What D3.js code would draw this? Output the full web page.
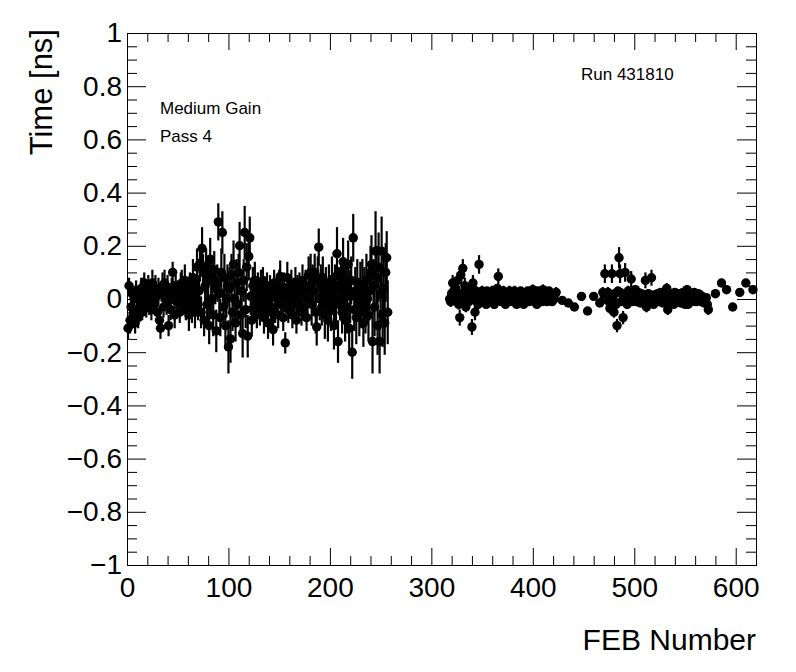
<!DOCTYPE html>
<html>
<head>
<meta charset="utf-8">
<script src="https://cdn.jsdelivr.net/npm/d3@7"></script>
<style>
  html, body { margin: 0; padding: 0; background: #fff; }
  svg text { font-family: "Liberation Sans", Arial, Helvetica, sans-serif; fill: #000; }
</style>
</head>
<body>
<div id="chart"></div>
<script>
// ---- data ----
const febLeft = d3.range(1, 258);
const timeLeft = [
    -0.11, 0.05, -0.08, -0.03, 0.02, -0.06, 0.0, -0.09, 0.03, -0.04,
    -0.07, 0.01, -0.02, 0.04, -0.05, 0.03, 0.06, 0.0, -0.03, 0.02,
    0.05, -0.01, 0.03, -0.04, 0.06, 0.02, -0.02, 0.04, 0.01, -0.05,
    0.03, -0.08, -0.11, 0.02, 0.05, -0.03, 0.06, 0.0, -0.02, 0.04,
    -0.1, 0.01, -0.04, 0.03, 0.1, 0.02, -0.06, 0.05, -0.01, 0.03,
    0.0, -0.05, 0.04, 0.06, -0.02, 0.02, 0.07, -0.04, 0.03, 0.01,
    -0.06, 0.05, 0.0, -0.03, 0.08, 0.02, -0.05, 0.04, 0.12, -0.02,
    0.03, 0.135, -0.05, 0.19, 0.1, -0.08, 0.05, 0.12, -0.02, 0.07,
    -0.1, 0.15, 0.0, 0.08, -0.06, 0.11, 0.04, -0.12, 0.06, 0.29,
    0.02, -0.07, 0.1, 0.25, -0.03, 0.08, -0.1, 0.0, 0.05, -0.18,
    0.04, -0.15, 0.09, -0.05, 0.13, 0.0, -0.09, 0.06, -0.02, 0.1,
    0.2, -0.06, 0.03, -0.13, 0.07, 0.25, -0.04, 0.12, -0.14, 0.16,
    0.23, 0.01, -0.08, 0.05, -0.03, 0.07, 0.0, -0.06, 0.04, 0.02,
    -0.04, 0.06, 0.0, 0.07, -0.07, 0.03, -0.02, 0.05, -0.09, 0.01,
    0.04, -0.05, 0.02, -0.115, 0.06, -0.03, 0.03, 0.0, -0.06, 0.05,
    0.085, -0.02, 0.02, -0.07, 0.04, -0.165, 0.01, 0.08, -0.04, 0.03,
    -0.01, 0.05, -0.06, 0.02, 0.0, 0.06, -0.08, 0.03, -0.02, 0.04,
    0.01, -0.05, 0.07, -0.03, 0.02, 0.05, -0.07, 0.0, 0.09, 0.04,
    0.1, -0.02, 0.06, 0.03, 0.1, -0.05, -0.105, 0.08, 0.195, 0.0,
    0.05, -0.03, 0.08, 0.02, -0.06, 0.04, 0.0, -0.08, 0.06, 0.01,
    -0.04, 0.07, 0.02, -0.1, 0.05, -0.02, 0.17, -0.16, 0.03, 0.0,
    0.06, -0.05, 0.14, 0.02, -0.08, 0.04, -0.03, 0.13, -0.11, 0.01,
    0.07, -0.2, 0.23, -0.04, 0.03, -0.07, 0.06, 0.0, -0.05, 0.04,
    -0.02, 0.05, -0.09, 0.02, -0.04, 0.07, 0.0, -0.06, 0.03, 0.1,
    0.13, -0.16, 0.05, -0.03, 0.18, 0.08, -0.1, 0.12, -0.16, 0.02,
    0.18, -0.06, 0.04, -0.09, 0.1, 0.155, -0.05
];
const errLeft = [
    .04, .03, .05, .03, .04, .05, .03, .04, .04, .05,
    .04, .03, .05, .04, .03, .05, .04, .03, .04, .05,
    .04, .05, .03, .04, .05, .04, .03, .05, .04, .04,
    .05, .04, .04, .03, .05, .04, .05, .03, .04, .05,
    .04, .05, .04, .05, .04, .03, .05, .04, .05, .04,
    .05, .04, .06, .05, .04, .05, .06, .04, .05, .05,
    .06, .05, .05, .06, .07, .05, .06, .05, .07, .06,
    .06, .07, .06, .08, .07, .06, .08, .07, .06, .08,
    .07, .08, .06, .07, .08, .07, .06, .08, .07, .07,
    .08, .07, .09, .08, .07, .09, .08, .07, .08, .1,
    .08, .09, .08, .07, .09, .08, .07, .09, .08, .07,
    .09, .08, .07, .09, .08, .1, .07, .09, .08, .09,
    .08, .07, .06, .07, .06, .07, .06, .05, .06, .06,
    .06, .05, .06, .05, .06, .05, .06, .05, .06, .05,
    .05, .06, .05, .06, .05, .06, .05, .06, .05, .06,
    .06, .05, .06, .05, .06, .04, .05, .06, .05, .06,
    .05, .06, .05, .06, .05, .06, .05, .06, .05, .06,
    .06, .05, .06, .05, .06, .06, .05, .06, .07, .06,
    .07, .08, .07, .08, .07, .08, .07, .08, .07, .08,
    .08, .07, .08, .07, .09, .08, .07, .08, .07, .08,
    .08, .09, .08, .09, .08, .09, .1, .08, .09, .08,
    .09, .08, .09, .1, .08, .09, .1, .09, .08, .1,
    .09, .1, .09, .08, .09, .1, .09, .08, .09, .1,
    .09, .1, .09, .1, .09, .1, .09, .1, .11, .1,
    .11, .12, .1, .11, .15, .12, .11, .13, .12, .11,
    .13, .12, .14, .12, .11, .1, .12
];

const febMidA = d3.range(318, 424);
const timeMidA = [
    0.0, -0.01, 0.02, 0.06, 0.03, -0.005, 0.04, 0.01, 0.07, -0.02,
    -0.07, 0.09, 0.02, 0.115, 0.0, 0.05, -0.03, 0.03, 0.01, -0.01,
    0.04, 0.02, -0.105, 0.06, 0.0, -0.05, 0.03, 0.01, -0.02, 0.13,
    0.02, 0.0, 0.03, -0.01, 0.02, 0.01, -0.02, 0.03, 0.0, 0.02,
    -0.01, 0.01, 0.03, 0.0, -0.02, 0.02, 0.01, 0.04, 0.085, 0.0,
    0.02, -0.01, 0.01, 0.03, 0.0, -0.02, 0.02, 0.01, -0.01, 0.03,
    0.0, 0.02, -0.01, 0.01, 0.03, 0.0, -0.02, 0.01, 0.02, -0.01,
    0.03, 0.0, 0.01, -0.02, 0.02, 0.0, 0.01, 0.03, -0.01, 0.02,
    0.0, 0.01, 0.035, -0.01, 0.02, 0.0, -0.02, 0.03, 0.01, 0.0,
    0.02, -0.01, 0.035, 0.01, 0.0, 0.02, -0.01, 0.01, 0.03, 0.0,
    0.02, -0.01, 0.01, 0.0, 0.02, 0.025
];
const errMidA = [
    .02, .02, .03, .03, .02, .02, .03, .02, .03, .02,
    .03, .03, .02, .035, .02, .03, .02, .02, .02, .02,
    .02, .02, .03, .03, .02, .03, .02, .02, .02, .035,
    .015, .015, .02, .015, .015, .02, .015, .015, .02, .015,
    .015, .015, .02, .015, .015, .015, .02, .015, .03, .015,
    .015, .015, .015, .02, .015, .015, .015, .015, .015, .02,
    .015, .015, .015, .015, .02, .015, .015, .015, .015, .015,
    .015, .015, .015, .015, .015, .02, .015, .015, .015, .015,
    .015, .015, .02, .015, .015, .015, .015, .015, .015, .015,
    .015, .015, .02, .015, .015, .015, .015, .015, .015, .015,
    .015, .015, .015, .015, .015, .02
];

const febMidB = d3.range(469, 574);
const timeMidB = [
    0.025, 0.0, 0.095, 0.01, 0.02, 0.025, -0.01, -0.035, 0.0, 0.095,
    0.01, -0.05, 0.02, -0.02, -0.1, 0.03, 0.155, 0.095, -0.01, 0.02,
    -0.07, 0.0, 0.1, 0.015, -0.02, 0.03, 0.0, 0.01, 0.075, -0.01,
    0.02, 0.0, 0.035, -0.01, 0.01, 0.025, 0.0, -0.015, 0.02, 0.01,
    -0.01, 0.015, 0.07, -0.03, 0.008, 0.02, 0.0, -0.01, 0.08, 0.01,
    -0.02, 0.015, 0.0, 0.003, 0.02, -0.01, 0.01, 0.025, 0.0, -0.015,
    0.02, 0.005, -0.01, 0.04, -0.04, 0.01, 0.02, -0.005, 0.015, 0.0,
    -0.02, 0.025, 0.01, -0.01, 0.02, 0.0, 0.015, -0.015, 0.01, 0.025,
    0.0, -0.02, 0.01, 0.035, -0.02, 0.015, 0.0, 0.02, -0.01, 0.01,
    0.025, 0.0, -0.01, 0.015, 0.02, 0.0, 0.015, -0.01, 0.01, 0.0,
    -0.015, -0.003, 0.005, -0.02, -0.04
];
const errMidB = [
    .02, .015, .035, .015, .015, .02, .015, .02, .015, .035,
    .015, .02, .015, .02, .025, .015, .04, .035, .015, .02,
    .025, .015, .035, .015, .015, .02, .015, .015, .03, .015,
    .015, .015, .015, .015, .015, .015, .015, .015, .015, .015,
    .015, .015, .03, .02, .015, .015, .015, .015, .03, .015,
    .015, .015, .015, .015, .015, .015, .015, .015, .015, .015,
    .015, .015, .015, .02, .02, .015, .015, .015, .015, .015,
    .015, .015, .015, .015, .015, .015, .015, .015, .015, .015,
    .015, .015, .015, .015, .015, .015, .015, .015, .015, .015,
    .015, .015, .015, .015, .015, .015, .015, .015, .015, .015,
    .015, .015, .015, .015, .02
];

const febSparse = [429, 435, 441, 448, 454, 460, 466, 580, 586, 591, 597, 604, 610, 617];
const timeSparse = [-0.005, -0.015, -0.03, 0.01, -0.045, 0.01, -0.015, 0.02, 0.06, 0.035, -0.03, 0.025, 0.06, 0.035];
const errSparse = [.015, .015, .015, .015, .015, .015, .015, .015, .015, .015, .015, .015, .015, .015];

const xMajor = [0, 100, 200, 300, 400, 500, 600];
const yMajor = [-1, -0.8, -0.6, -0.4, -0.2, 0, 0.2, 0.4, 0.6, 0.8, 1];
const xTitle = "FEB Number";
const yTitle = "Time [ns]";
const labels = ["Medium Gain", "Pass 4"];
const runLabel = "Run 431810";

// ---- layout ----
const width = 796, height = 672;
const frame = {left: 127, right: 756, top: 33, bottom: 565};

const points = [
    ...febLeft.map((f, i) => ({feb: f, t: timeLeft[i], e: errLeft[i]})),
    ...febMidA.map((f, i) => ({feb: f, t: timeMidA[i], e: errMidA[i]})),
    ...febSparse.map((f, i) => ({feb: f, t: timeSparse[i], e: errSparse[i]})),
    ...febMidB.map((f, i) => ({feb: f, t: timeMidB[i], e: errMidB[i]}))
];

const svg = d3.select("#chart").append("svg")
    .attr("width", width).attr("height", height);

const x = d3.scaleLinear().domain([0, 620]).range([frame.left, frame.right]);
const y = d3.scaleLinear().domain([-1, 1]).range([frame.bottom, frame.top]);

const xMinor = d3.range(0, 621, 20).filter(v => v % 100 !== 0);
const yMinor = d3.range(-20, 21).map(v => v * 0.05).filter(v => Math.abs(Math.round(v * 5) - v * 5) > 1e-6);

const fmt = d => d3.format("")(+d.toFixed(1));

/** draw one set of ticks on one side */
const drawTicks = (axis, values, size, transform, format, cls) => {
    const g = svg.append("g").attr("class", cls).attr("transform", transform)
        .call(axis.tickValues(values).tickSize(-size).tickSizeOuter(0)
            .tickPadding(cls === "xlab" ? 12 : 5)
            .tickFormat(format || (() => "")));
    g.select(".domain").remove();
    g.selectAll("line").attr("stroke", "#000").attr("stroke-width", 1);
    g.selectAll("text").style("font-size", "28px").attr("fill", "#000");
    return g;
};

// x ticks bottom and top
drawTicks(d3.axisBottom(x), xMajor, 17, `translate(0,${frame.bottom})`, fmt, "xlab");
drawTicks(d3.axisBottom(x), xMinor, 9, `translate(0,${frame.bottom})`, null, "xminor");
drawTicks(d3.axisTop(x), xMajor, 17, `translate(0,${frame.top})`, null, "xtop");
drawTicks(d3.axisTop(x), xMinor, 9, `translate(0,${frame.top})`, null, "xtopminor");
// y ticks left and right
drawTicks(d3.axisLeft(y), yMajor, 19, `translate(${frame.left},0)`, fmt, "ylab");
drawTicks(d3.axisLeft(y), yMinor, 10, `translate(${frame.left},0)`, null, "yminor");
drawTicks(d3.axisRight(y), yMajor, 19, `translate(${frame.right},0)`, null, "yright");
drawTicks(d3.axisRight(y), yMinor, 10, `translate(${frame.right},0)`, null, "yrightminor");

// frame
svg.append("rect")
    .attr("x", frame.left + 0.5).attr("y", frame.top + 0.5)
    .attr("width", frame.right - frame.left).attr("height", frame.bottom - frame.top)
    .attr("fill", "none").attr("stroke", "#000").attr("stroke-width", 1);

// error bars and markers
const plot = svg.append("g");
plot.selectAll("line.err")
    .data(points)
    .join("line").attr("class", "err")
    .attr("x1", d => x(d.feb)).attr("x2", d => x(d.feb))
    .attr("y1", d => y(d.t + d.e)).attr("y2", d => y(d.t - d.e))
    .attr("stroke", "#000").attr("stroke-width", 2.2);
plot.selectAll("circle.pt")
    .data(points)
    .join("circle").attr("class", "pt")
    .attr("cx", d => x(d.feb)).attr("cy", d => y(d.t))
    .attr("r", 4.7)
    .attr("fill", "#000");

// axis titles
svg.append("text")
    .attr("x", frame.right).attr("y", 650)
    .attr("text-anchor", "end")
    .style("font-size", "30px")
    .text(xTitle);
svg.append("text")
    .attr("transform", `translate(52,${frame.top - 4}) rotate(-90)`)
    .attr("text-anchor", "end")
    .style("font-size", "31px")
    .text(yTitle);

// annotations
svg.selectAll("text.note")
    .data(labels)
    .join("text").attr("class", "note")
    .attr("x", 160).attr("y", (d, i) => 114 + i * 28)
    .style("font-size", "17px")
    .text(d => d);
svg.append("text")
    .attr("x", 581).attr("y", 80)
    .style("font-size", "17px")
    .text(runLabel);
</script>
</body>
</html>
